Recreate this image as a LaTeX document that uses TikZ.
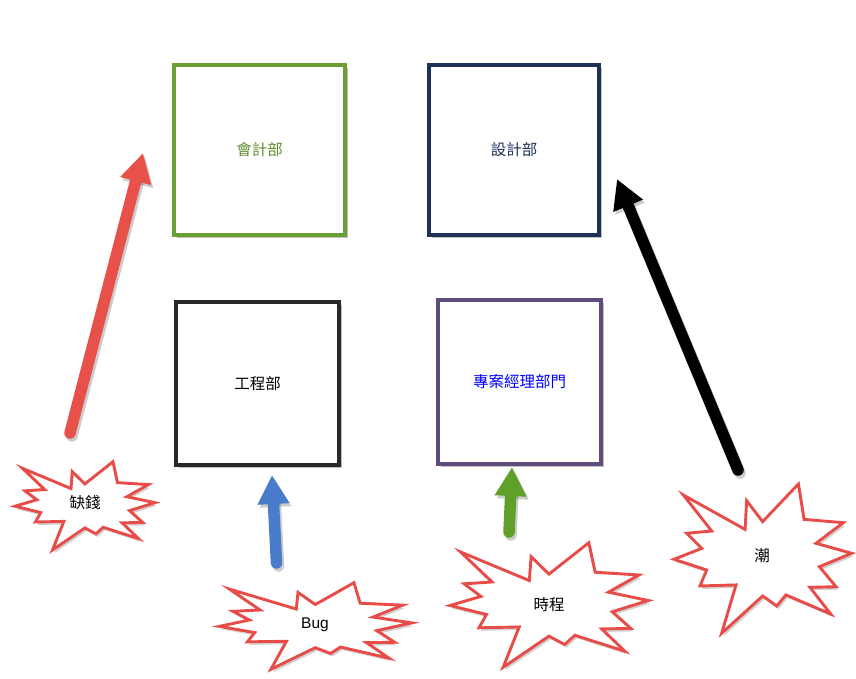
\documentclass[tikz,border=0pt]{standalone}
\usepackage{fontspec}
\setmainfont{Liberation Sans}
\newfontfamily\cjk{Noto Sans CJK TC}
\usepackage{xcolor}
\definecolor{deptgreen}{RGB}{104,160,52}
\definecolor{deptnavy}{RGB}{30,50,88}
\definecolor{deptgray}{RGB}{40,40,40}
\definecolor{deptpurple}{RGB}{96,76,124}
\definecolor{burstred}{RGB}{232,76,72}
\definecolor{arrowred}{RGB}{232,80,74}
\definecolor{arrowblue}{RGB}{74,124,204}
\definecolor{arrowgreen}{RGB}{94,160,40}
\usetikzlibrary{arrows.meta,shadows}
\tikzset{
  dept/.style={draw=#1, line width=3.2pt, fill=white, inner sep=0pt,
               minimum width=163pt, minimum height=163pt,
               font=\cjk\fontsize{15.5}{18}\selectfont,
               drop shadow={shadow xshift=3pt, shadow yshift=-3pt, opacity=0.25, fill=black}},
  burst/.style={draw=burstred, line width=2.9pt, fill=white, line join=miter},
  burstshadow/.style={fill=black, opacity=0.18},
  blabel/.style={font=\fontsize{15.5}{18}\selectfont, inner sep=0pt},
  fatarrow/.style={draw=#1, line width=11.5pt, line cap=round,
                   -{Triangle[width=30pt,length=29pt]}},
  fatshadow/.style={draw=black, opacity=0.2, line width=11.5pt, line cap=round,
                    -{Triangle[width=30pt,length=29pt]}},
}
\newcommand\burstpath{(0.053,0.074) -- (0.400,0.304) -- (0.409,0.112) -- (0.499,0.252)
  -- (0.700,0) -- (0.732,0.237) -- (0.953,0.259) -- (0.799,0.397) -- (1,0.464)
  -- (0.818,0.554) -- (0.912,0.688) -- (0.765,0.692) -- (0.882,0.871) -- (0.630,0.743)
  -- (0.578,0.817) -- (0.499,0.750) -- (0.268,1) -- (0.349,0.676) -- (0.146,0.683)
  -- (0.184,0.576) -- (0,0.504) -- (0.156,0.431) -- (0.071,0.330) -- (0.212,0.315) -- cycle}

\begin{document}
\begin{tikzpicture}[x=1pt, y=-1pt]
\useasboundingbox (0,0) rectangle (856,678);
% Departments
\node[dept=deptgreen, text=deptgreen!90!black, minimum width=171pt, minimum height=170pt] (acct) at (259.5,150) {會計部};
\node[dept=deptnavy, text=deptnavy, minimum width=170pt, minimum height=170pt] (design) at (514,150) {設計部};
\node[dept=deptgray, text=black] (eng) at (257.5,383.5) {工程部};
\node[dept=deptpurple, text=blue, minimum height=164pt] (pm) at (519.5,382) {專案經理部門};
% Arrow ends
\coordinate (lack-tail) at (70,433);
\coordinate (lack-tip) at (143,153);
\coordinate (bug-tail) at (276.5,563);
\coordinate (bug-tip) at (272,475);
\coordinate (sched-tail) at (509,532);
\coordinate (sched-tip) at (512,467);
\coordinate (trend-tail) at (738,470);
\coordinate (trend-tip) at (617,179);
% Arrows
\foreach \nm/\col in {lack/arrowred, bug/arrowblue, sched/arrowgreen, trend/black}{
  \draw[fatshadow] ([shift={(2,3)}]\nm-tail) -- ([shift={(2,3)}]\nm-tip);
  \draw[fatarrow=\col] (\nm-tail) -- (\nm-tip);
}
% Bursts
\foreach \nm/\bx/\by/\bw/\bh/\lx/\ly/\txt in {
  lack/15/461.7/140/88.3/85/503/{\cjk 缺錢},
  bug/219.3/582.7/192.4/86.6/315/625/{Bug},
  sched/450/542.7/198.3/124.6/549/605/{\cjk 時程},
  trend/674/484/177.7/149.3/762/556/{\cjk 潮}}{
  \begin{scope}[shift={(\bx,\by)}, xscale=\bw, yscale=\bh]
    \fill[burstshadow, shift={({2/\bw},{3/\bh})}] \burstpath;
    \draw[burst] \burstpath;
  \end{scope}
  \node[blabel] (\nm) at (\lx,\ly) {\txt};
}
\end{tikzpicture}
\end{document}
